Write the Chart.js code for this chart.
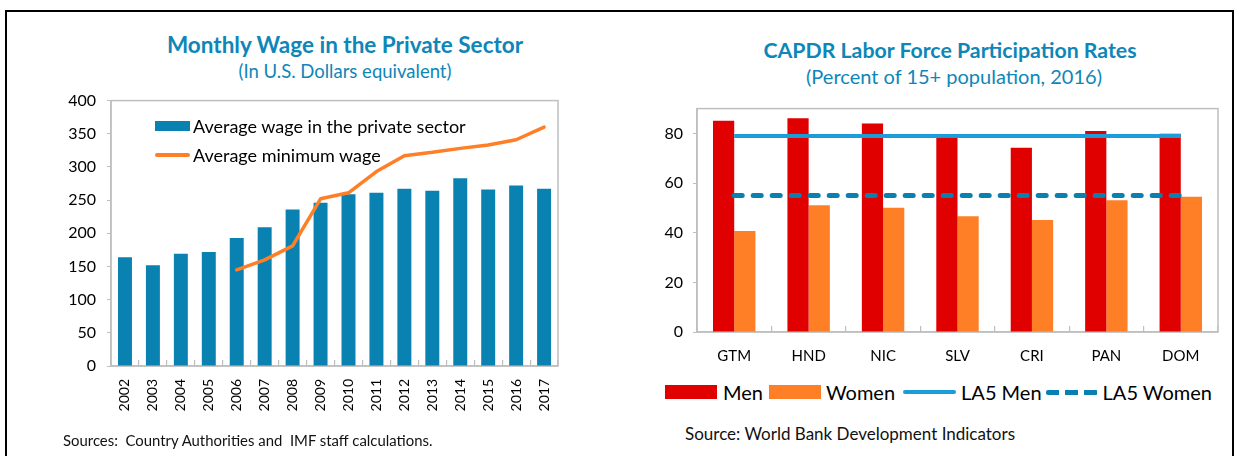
<!DOCTYPE html>
<html>
<head>
<meta charset="utf-8">
<script src="https://cdn.jsdelivr.net/npm/chart.js@4.4.1/dist/chart.umd.min.js"></script>
<style>
  body { margin: 0; width: 1236px; height: 456px; background: #fff; font-family: Lato, "Noto Sans", sans-serif; overflow: hidden; position: relative; }
  .frame { position: absolute; left: 5px; top: 10px; width: 1225px; height: 460px; border: 2px solid #000; border-bottom: none; }
  .box { position: absolute; }
  .title { position: absolute; text-align: center; color: #0e86b8; font-weight: bold; line-height: 26px; white-space: nowrap; }
  .sub { position: absolute; text-align: center; color: #0e86b8; line-height: 24px; white-space: nowrap; }
  .src { position: absolute; color: #111; white-space: nowrap; line-height: 20px; }
  .leg { position: absolute; display: flex; align-items: center; white-space: nowrap; color: #000; }
  .sw { display: inline-block; flex: none; }
</style>
</head>
<body>
<div class="frame"></div>

<div class="title" style="left:95px; width:500px; top:32px; font-size:22.5px;">Monthly Wage in the Private Sector</div>
<div class="sub" style="left:95px; width:500px; top:59px; font-size:18.5px;">(In U.S. Dollars equivalent)</div>
<div class="title" style="left:700px; width:500px; top:37px; font-size:21.3px;">CAPDR Labor Force Participation Rates</div>
<div class="sub" style="left:704px; width:500px; top:64px; font-size:20px;">(Percent of 15+ population, 2016)</div>

<div class="box" style="left:50px; top:80px; width:530px; height:355px;"><canvas id="wageChart"></canvas></div>
<div class="box" style="left:630px; top:89px; width:595px; height:281px;"><canvas id="lfpChart"></canvas></div>

<div class="leg" style="left:155px; top:115px; height:22px; font-size:18px;">
  <span class="sw" style="width:35px; height:10px; background:#0a82b1; margin-right:3px;"></span>Average wage in the private sector
</div>
<div class="leg" style="left:155px; top:144px; height:22px; font-size:18px;">
  <span class="sw" style="width:35px; height:4px; border-radius:2px; background:#ff7f27; margin-right:3px;"></span>Average minimum wage
</div>

<div class="leg" style="left:665px; top:379px; height:26px; font-size:20px;">
  <span class="sw" style="width:52px; height:14px; background:#e00000; margin-right:6px;"></span>Men
  <span class="sw" style="width:52px; height:14px; background:#ff7f27; margin:0 5px 0 6px;"></span>Women
  <span class="sw" style="width:53px; height:4px; border-radius:2px; background:#1b9dd9; margin:0 5px 0 8px;"></span>LA5 Men
  <span class="sw" style="width:52px; height:5px; margin:0 5px 0 4px; background:repeating-linear-gradient(90deg,#0a80b0 0 13px,transparent 13px 19px); border-radius:2px;"></span>LA5 Women
</div>

<div class="src" style="left:63px; top:430px; font-size:14.9px;">Sources:&nbsp; Country Authorities and&nbsp; IMF staff calculations.</div>
<div class="src" style="left:685px; top:424px; font-size:17px;">Source: World Bank Development Indicators</div>

<script>
// ---- data: monthly wage chart ----
const years = ['2002', '2003', '2004', '2005', '2006', '2007', '2008', '2009',
               '2010', '2011', '2012', '2013', '2014', '2015', '2016', '2017'];
const avgWage = [164, 152, 169, 172, 193, 209, 236, 246, 259, 261, 267, 264, 283, 266, 272, 267];
const minWage = [null, null, null, null, 145, 160, 181, 252, 261, 293, 317, 322, 328, 333, 341, 360];
const wageTicks = [0, 50, 100, 150, 200, 250, 300, 350, 400];

// ---- data: labor force participation chart ----
const countries = ['GTM', 'HND', 'NIC', 'SLV', 'CRI', 'PAN', 'DOM'];
const menRate = [85.1, 86.1, 84.0, 78.2, 74.2, 81.0, 79.9];
const womenRate = [40.7, 51.1, 50.1, 46.6, 45.1, 53.1, 54.5];
const la5Men = [79, 79, 79, 79, 79, 79, 79];
const la5Women = [55, 55, 55, 55, 55, 55, 55];
const lfpTicks = [0, 20, 40, 60, 80];

const AXIS_GRAY = '#bfbfbf';
const FONT = 'Lato, "Noto Sans", sans-serif';

// gray box round the whole plot area
const plotBorder = {
    id: 'plotBorder',
    beforeDatasetsDraw(chart) {
        const { ctx, chartArea: a } = chart;
        ctx.save();
        ctx.strokeStyle = AXIS_GRAY;
        ctx.lineWidth = 1.5;
        ctx.strokeRect(a.left, a.top, a.right - a.left, a.bottom - a.top);
        ctx.restore();
    }
};

function fixedTicks(values) {
    return function(scale) {
        scale.ticks = values.map(v => ({ value: v }));
    };
}

Chart.defaults.font.family = FONT;
Chart.defaults.color = '#000';
Chart.defaults.animation = false;

new Chart(document.getElementById('wageChart'), {
    type: 'bar',
    data: {
        labels: years,
        datasets: [{
            type: 'line',
            label: 'Average minimum wage',
            data: minWage,
            borderColor: '#ff7f27',
            borderWidth: 3.5,
            borderCapStyle: 'round',
            borderJoinStyle: 'round',
            pointRadius: 0,
            tension: 0,
            spanGaps: false,
            order: 0
        }, {
            label: 'Average wage in the private sector',
            data: avgWage,
            backgroundColor: '#0a82b1',
            categoryPercentage: 0.5,
            barPercentage: 1.0,
            order: 1
        }]
    },
    options: {
        responsive: true,
        maintainAspectRatio: false,
        layout: { padding: { top: 0, right: 4, left: 0, bottom: 0 } },
        plugins: { legend: { display: false }, tooltip: { enabled: false } },
        scales: {
            x: {
                grid: { offset: true, drawOnChartArea: false, tickLength: -6, color: AXIS_GRAY, lineWidth: 1.2 },
                border: { color: AXIS_GRAY, width: 1.5 },
                ticks: { maxRotation: 90, minRotation: 90, autoSkip: false, padding: 19, font: { size: 14 } },
                afterFit(scale) { scale.height = 69; }
            },
            y: {
                min: 0,
                max: 400,
                afterBuildTicks: fixedTicks(wageTicks),
                grid: { drawOnChartArea: false, tickLength: 4, color: AXIS_GRAY },
                border: { color: AXIS_GRAY, width: 1.5 },
                ticks: { padding: 11, font: { size: 16 } },
                afterFit(scale) { scale.width = 61; }
            }
        }
    },
    plugins: [plotBorder]
});

new Chart(document.getElementById('lfpChart'), {
    type: 'bar',
    data: {
        labels: countries,
        datasets: [{
            type: 'line',
            label: 'LA5 Men',
            data: la5Men,
            borderColor: '#1b9dd9',
            borderWidth: 4,
            pointRadius: 0,
            order: 0
        }, {
            type: 'line',
            label: 'LA5 Women',
            data: la5Women,
            borderColor: '#0a80b0',
            borderWidth: 5,
            borderDash: [8, 11],
            borderCapStyle: 'round',
            pointRadius: 0,
            order: 0
        }, {
            label: 'Men',
            data: menRate,
            backgroundColor: '#e00000',
            categoryPercentage: 0.57,
            barPercentage: 1.0,
            order: 1
        }, {
            label: 'Women',
            data: womenRate,
            backgroundColor: '#ff7f27',
            categoryPercentage: 0.57,
            barPercentage: 1.0,
            order: 1
        }]
    },
    options: {
        responsive: true,
        maintainAspectRatio: false,
        layout: { padding: { top: 0, right: 7, left: 0, bottom: 0 } },
        plugins: { legend: { display: false }, tooltip: { enabled: false } },
        scales: {
            x: {
                grid: { offset: true, drawOnChartArea: false, tickLength: -6, color: AXIS_GRAY, lineWidth: 1.2 },
                border: { color: AXIS_GRAY, width: 1.5 },
                ticks: { padding: 21, font: { size: 15 } },
                afterFit(scale) { scale.height = 38; }
            },
            y: {
                min: 0,
                max: 90,
                afterBuildTicks: fixedTicks(lfpTicks),
                grid: { drawOnChartArea: false, tickLength: 4, color: AXIS_GRAY },
                border: { color: AXIS_GRAY, width: 1.5 },
                ticks: { padding: 10, font: { size: 16 } },
                afterFit(scale) { scale.width = 67; }
            }
        }
    },
    plugins: [plotBorder]
});
</script>
</body>
</html>
